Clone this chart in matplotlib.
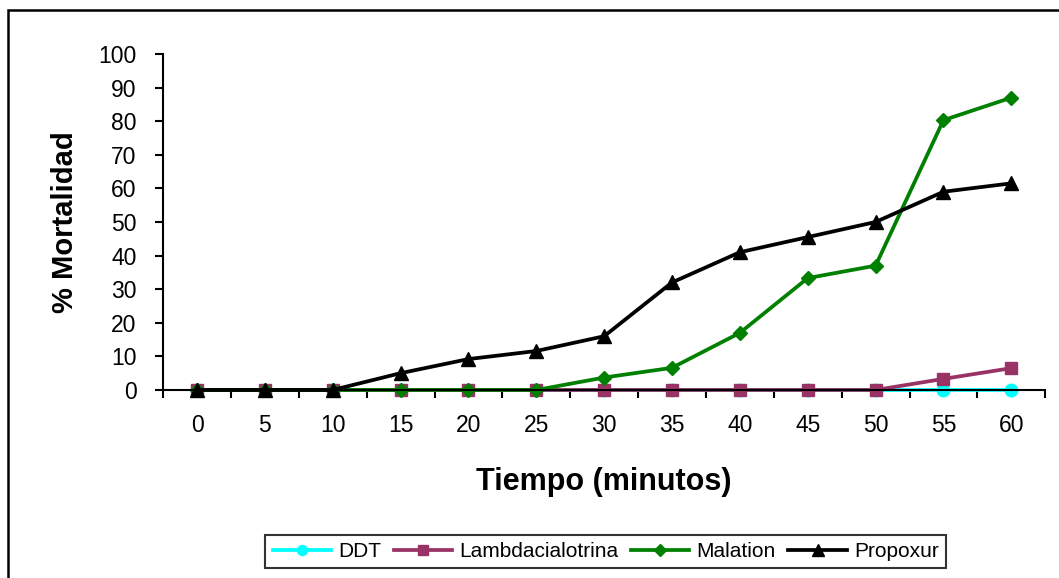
import matplotlib
matplotlib.use("Agg")
import matplotlib.pyplot as plt
from matplotlib.patches import Rectangle
import numpy as np

plt.rcParams['font.family'] = ['Liberation Sans', 'DejaVu Sans']

# data
tiempo = [0, 5, 10, 15, 20, 25, 30, 35, 40, 45, 50, 55, 60]
ddt = [0, 0, 0, 0, 0, 0, 0, 0, 0, 0, 0, 0, 0]
lambdacialotrina = [0, 0, 0, 0, 0, 0, 0, 0, 0, 0, 0, 3.3, 6.5]
malation = [0, 0, 0, 0, 0, 0, 3.7, 6.6, 17, 33.3, 37, 80.3, 87]
propoxur = [0, 0, 0, 5, 9.2, 11.6, 16, 32, 41, 45.5, 50, 59, 61.5]

series = [
    ("DDT", ddt, "#00FFFF", "o", 9),
    ("Lambdacialotrina", lambdacialotrina, "#993366", "s", 9),
    ("Malation", malation, "#008000", "D", 7.5),
    ("Propoxur", propoxur, "#000000", "^", 10),
]

fig = plt.figure(figsize=(10.59, 5.78), dpi=100)
ax = fig.add_axes([0.154, 0.3253, 0.833, 0.5813])

x = np.arange(len(tiempo))
for name, vals, color, marker, ms in series:
    ax.plot(x, vals, color=color, marker=marker, markersize=ms, lw=2.7,
            label=name, clip_on=False)

ax.set_xlim(-0.5, len(tiempo) - 0.5)
ax.set_ylim(0, 100)
ax.set_xticks(x)
ax.set_xticklabels([str(t) for t in tiempo])
ax.set_xticks(np.arange(-0.5, len(tiempo)), minor=True)
ax.tick_params(axis='x', which='major', length=0, pad=17, labelsize=16.5)
ax.tick_params(axis='x', which='minor', length=6, width=1.5, direction='out')
ax.set_yticks(np.arange(0, 101, 10))
ax.tick_params(axis='y', length=6, width=1.5, direction='out', pad=13, labelsize=16.5)

for s in ['top', 'right']:
    ax.spines[s].set_visible(False)
for s in ['left', 'bottom']:
    ax.spines[s].set_linewidth(1.5)

ax.set_xlabel("Tiempo (minutos)", fontsize=22, fontweight='bold', labelpad=22)
ax.set_ylabel("% Mortalidad", fontsize=21, fontweight='bold', labelpad=14)

leg = fig.legend(loc='center', bbox_to_anchor=(0.572, 0.0458), ncol=4,
                 frameon=True, fancybox=False, edgecolor='black',
                 fontsize=15, handlelength=2.8, columnspacing=0.6,
                 handletextpad=0.35, borderpad=0.35, markerscale=0.8)
leg.get_frame().set_linewidth(1.5)

fig.patches.append(Rectangle((8 / 1059, -0.1), 1.2, 1 - 10 / 578 + 0.1,
                             transform=fig.transFigure, fill=False,
                             edgecolor='black', linewidth=1.8))

fig.savefig("out.png", dpi=100)
